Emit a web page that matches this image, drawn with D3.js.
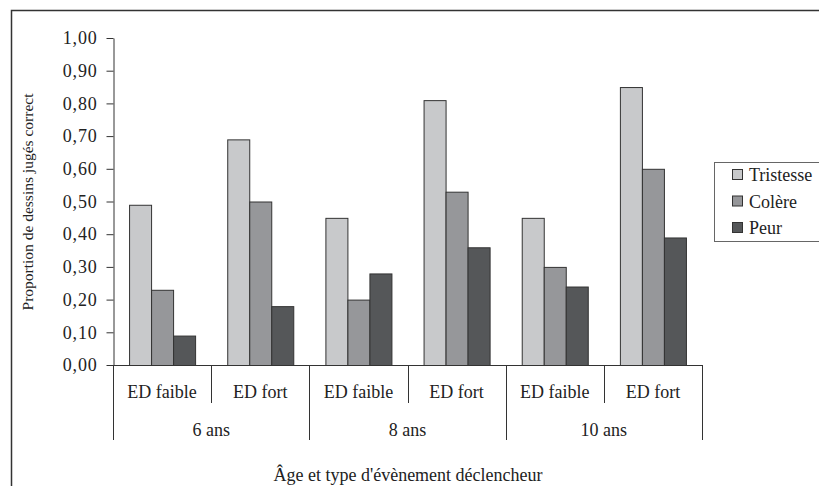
<!DOCTYPE html>
<html>
<head>
<meta charset="utf-8">
<script src="https://cdn.jsdelivr.net/npm/d3@7/dist/d3.min.js"></script>
<style>
  html, body { margin: 0; padding: 0; background: #fff; }
  svg { display: block; }
</style>
</head>
<body>
<svg id="s" width="819" height="486" style="font-family: 'Liberation Serif', Tinos, 'Times New Roman', serif;"></svg>
<script>
// ---- data ----
const ages = ["6 ans", "8 ans", "10 ans"];
const types = ["ED faible", "ED fort"];
const seriesNames = ["Tristesse", "Colère", "Peur"];
const tristesse = [0.49, 0.69, 0.45, 0.81, 0.45, 0.85];
const colere    = [0.23, 0.50, 0.20, 0.53, 0.30, 0.60];
const peur      = [0.09, 0.18, 0.28, 0.36, 0.24, 0.39];
const yTicks = [0, 0.1, 0.2, 0.3, 0.4, 0.5, 0.6, 0.7, 0.8, 0.9, 1.0];
const yLabel = "Proportion de dessins jugés correct";
const xLabel = "Âge et type d'évènement déclencheur";

const colors = ["#c8c9cb", "#96979a", "#555759"];
const seriesValues = [tristesse, colere, peur];

const categories = [];
ages.forEach(a => types.forEach(t => categories.push({ key: a + "|" + t, age: a, type: t })));

const svg = d3.select("#s");
const FONT = '"Liberation Serif"';
const TXT = "#222";

// outer frame
svg.append("path")
  .attr("d", "M11.5,486 L11.5,10.5 L822,10.5")
  .attr("fill", "none").attr("stroke", "#333").attr("stroke-width", 1.5);

const mLeft = 113, mRight = 702, mTop = 38, mBottom = 365;

const y = d3.scaleLinear().domain([0, 1]).range([mBottom, mTop]);
const x0 = d3.scaleBand().domain(categories.map(c => c.key)).range([mLeft, mRight]).padding(0);
const x1 = d3.scaleBand().domain(seriesNames).range([0, x0.bandwidth()]).paddingInner(0).paddingOuter(0.73);
const xAge = d3.scaleBand().domain(ages).range([mLeft, mRight]).padding(0);

const fr = d3.formatLocale({ decimal: ",", thousands: " ", grouping: [3], currency: ["", "€"] });

// y axis
const yAxis = d3.axisLeft(y).tickValues(yTicks).tickFormat(fr.format(".2f")).tickSize(7).tickSizeOuter(0);
const gy = svg.append("g").attr("transform", `translate(${mLeft + 0.5},0)`).call(yAxis);
gy.attr("font-family", null).attr("font-size", null);
gy.select(".domain").attr("stroke", "#333");
gy.selectAll(".tick line").attr("stroke", "#333");
gy.selectAll(".tick text").attr("x", -16).attr("fill", TXT)
  .style("font-family", FONT).style("font-size", "18px").style("letter-spacing", "0.8px");

// bars
const g = svg.append("g");
categories.forEach((c, i) => {
  seriesNames.forEach((s, j) => {
    const v = seriesValues[j][i];
    g.append("rect")
      .attr("x", x0(c.key) + x1(s) + 0.5)
      .attr("y", y(v) + 0.5)
      .attr("width", x1.bandwidth())
      .attr("height", y(0) - y(v))
      .attr("fill", colors[j])
      .attr("stroke", "#333").attr("stroke-width", 1);
  });
});

// x axis line
svg.append("line").attr("x1", mLeft).attr("x2", mRight + 1).attr("y1", mBottom + 0.5).attr("y2", mBottom + 0.5)
  .attr("stroke", "#333");

// category separators
const sepG = svg.append("g").attr("stroke", "#333");
categories.forEach((c, i) => {
  const xs = x0(c.key);
  const isAgeStart = c.type === types[0];
  sepG.append("line").attr("x1", Math.round(xs) + 0.5).attr("x2", Math.round(xs) + 0.5)
    .attr("y1", mBottom).attr("y2", isAgeStart ? 440 : 403);
});
sepG.append("line").attr("x1", mRight + 0.5).attr("x2", mRight + 0.5).attr("y1", mBottom).attr("y2", 440);

function label(sel, size) {
  return sel.attr("fill", TXT).style("font-family", FONT).style("font-size", size + "px");
}

// category labels
categories.forEach(c => {
  label(svg.append("text"), 18).attr("x", x0(c.key) + x0.bandwidth() / 2).attr("y", 398)
    .attr("text-anchor", "middle").text(c.type);
});
ages.forEach(a => {
  label(svg.append("text"), 18).attr("x", xAge(a) + xAge.bandwidth() / 2).attr("y", 436)
    .attr("text-anchor", "middle").text(a);
});

// axis titles
label(svg.append("text"), 18).attr("x", 408).attr("y", 481).attr("text-anchor", "middle").text(xLabel);
label(svg.append("text"), 15.5).attr("transform", "translate(33,202) rotate(-90)")
  .attr("text-anchor", "middle").text(yLabel);

// legend
const lg = svg.append("g");
lg.append("rect").attr("x", 714.5).attr("y", 162.5).attr("width", 120).attr("height", 79)
  .attr("fill", "#fff").attr("stroke", "#666");
seriesNames.forEach((s, j) => {
  const yy = 175 + j * 26.5;
  lg.append("rect").attr("x", 732.5).attr("y", yy - 5.5).attr("width", 10).attr("height", 10)
    .attr("fill", colors[j]).attr("stroke", "#333");
  label(lg.append("text"), 18).attr("x", 749).attr("y", yy + 6).text(s);
});
</script>
</body>
</html>
